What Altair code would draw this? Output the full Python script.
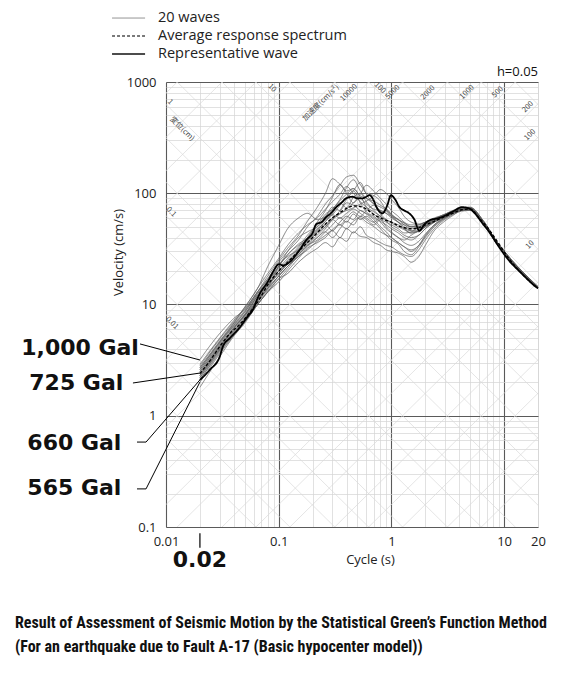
import math
import altair as alt
import pandas as pd

# ---------------- data ----------------
KINDS = ["20 waves", "Average response spectrum", "Representative wave"]

# common period grid of the 20 simulated waves (s)
T_wave = [0.02, 0.03, 0.04, 0.05, 0.065, 0.08, 0.1, 0.12, 0.15, 0.18, 0.22, 0.26,
          0.3, 0.35, 0.4, 0.46, 0.53, 0.6, 0.7, 0.8, 0.9, 1.0, 1.15, 1.3,
          1.5, 1.75, 2.0, 2.4, 2.9, 3.5, 4.2, 5.0, 6.5, 8.5, 11, 15, 20]

# pseudo velocity response (cm/s) of the 20 waves
waves = [
    [3.2, 5.5, 7.5, 9.0, 13, 17, 24, 30, 38, 50, 62, 80,
     95, 118, 140, 145, 120, 100, 95, 85, 70, 62, 55, 52,
     50, 52, 55, 60, 64, 70, 74, 74, 56, 37, 26.5, 19, 14.5],
    [1.8, 3.4, 5.2, 6.8, 10, 13, 17, 19, 24, 28, 32, 36,
     33, 40, 37, 45, 41, 40, 36, 34, 31, 30, 29, 27,
     24, 27, 34, 46, 55, 63, 70, 71, 54, 36, 25.5, 18.5, 14],
    [2.3, 4.0, 6.2, 8.0, 11, 14, 22, 28, 35, 40, 55, 70,
     92, 120, 100, 82, 92, 75, 65, 58, 55, 52, 48, 44,
     45, 50, 54, 58, 63, 68, 72, 73, 55, 37, 26, 18.8, 14.3],
    [2.6, 4.6, 6.8, 9.5, 14, 22, 34, 48, 60, 66, 58, 62,
     75, 70, 82, 78, 70, 66, 60, 55, 48, 44, 40, 38,
     42, 46, 50, 55, 60, 66, 70, 71, 54, 36, 25.5, 18.5, 14],
    [2.2, 3.9, 5.6, 7.2, 10.5, 14, 18, 22, 27, 33, 40, 48,
     58, 70, 88, 105, 125, 98, 80, 70, 66, 60, 55, 50,
     46, 45, 50, 56, 61, 67, 72, 73, 56, 37, 26.5, 19, 14.2],
    [2.5, 4.4, 6.4, 8.2, 12, 15, 19, 23, 30, 38, 48, 52,
     46, 55, 62, 58, 70, 65, 58, 50, 45, 40, 36, 33,
     30, 34, 42, 52, 60, 66, 71, 72, 55, 36.5, 26, 18.6, 14],
    [2.8, 4.9, 7.0, 9.2, 13, 18, 25, 32, 42, 56, 75, 100,
     135, 120, 105, 110, 95, 90, 80, 75, 70, 64, 58, 54,
     50, 50, 53, 58, 63, 69, 74, 75, 57, 37.5, 27, 19.2, 14.5],
    [2.1, 3.7, 5.4, 7.0, 10, 13, 17, 21, 28, 34, 38, 45,
     52, 60, 55, 65, 58, 62, 55, 48, 42, 38, 35, 30,
     28, 33, 40, 50, 58, 65, 70, 71, 54, 36, 25.5, 18.4, 13.8],
    [2.4, 4.2, 6.1, 8.0, 12, 16, 21, 26, 33, 42, 52, 65,
     72, 88, 112, 132, 105, 90, 85, 78, 72, 65, 58, 52,
     48, 48, 52, 57, 62, 68, 72, 73, 56, 37, 26.5, 19, 14.3],
    [2.7, 4.7, 6.8, 8.8, 13, 17, 23, 27, 31, 36, 44, 50,
     58, 52, 60, 68, 62, 70, 78, 65, 58, 54, 50, 47,
     44, 46, 51, 57, 62, 68, 72, 73, 56, 37, 26.5, 18.9, 14.2],
    [2.0, 3.6, 5.3, 7.0, 10, 13, 16, 20, 26, 32, 36, 40,
     46, 40, 48, 44, 50, 42, 39, 36, 34, 33, 30, 28,
     27, 31, 38, 48, 57, 64, 69, 70, 53, 35.5, 25.5, 18.3, 13.8],
    [2.3, 4.1, 5.9, 7.7, 11, 15, 19, 23, 29, 35, 42, 50,
     58, 65, 72, 82, 98, 118, 104, 90, 80, 70, 62, 55,
     52, 52, 55, 59, 64, 69, 73, 74, 57, 37.5, 27, 19, 14.4],
    [2.6, 4.5, 6.5, 8.5, 12.5, 16, 22, 30, 40, 45, 50, 58,
     66, 82, 74, 92, 100, 84, 70, 62, 58, 55, 52, 48,
     46, 47, 51, 56, 62, 68, 72, 73, 56, 37, 26.5, 18.9, 14.2],
    [2.2, 3.9, 5.7, 7.4, 11, 14, 18, 22, 27, 31, 37, 42,
     47, 52, 48, 56, 60, 55, 50, 45, 42, 40, 36, 33,
     31, 34, 41, 51, 59, 66, 70, 71, 54, 36, 25.5, 18.5, 14],
    [2.5, 4.3, 6.2, 8.1, 12, 15.5, 20, 24, 30, 37, 45, 52,
     60, 66, 70, 74, 80, 85, 95, 108, 100, 88, 75, 62,
     55, 53, 55, 59, 64, 69, 73, 74, 57, 37.5, 27, 19, 14.3],
    [2.9, 5.0, 7.2, 9.4, 14, 19, 26, 34, 44, 52, 60, 72,
     84, 98, 115, 100, 84, 75, 68, 62, 56, 50, 46, 42,
     40, 42, 48, 55, 61, 67, 71, 72, 55, 36.5, 26, 18.8, 14.1],
    [2.1, 3.8, 5.5, 7.2, 10.5, 13.5, 18, 22, 28, 34, 40, 45,
     40, 48, 56, 52, 62, 58, 52, 58, 50, 45, 40, 36,
     34, 37, 43, 52, 59, 66, 70, 71, 54, 36, 25.5, 18.4, 13.9],
    [2.4, 4.2, 6.1, 7.9, 11.5, 15, 20, 25, 32, 40, 50, 62,
     72, 86, 98, 110, 92, 80, 72, 70, 66, 62, 58, 54,
     50, 50, 53, 58, 63, 68, 72, 73, 56, 37, 26.5, 19, 14.3],
    [2.7, 4.6, 6.6, 8.6, 12.5, 16.5, 22, 28, 34, 38, 46, 56,
     64, 60, 66, 72, 66, 60, 55, 62, 72, 64, 55, 48,
     44, 46, 50, 56, 61, 67, 71, 72, 55, 36.5, 26, 18.8, 14.1],
    [2.3, 4.0, 5.8, 7.5, 11, 14.5, 19, 24, 31, 38, 47, 56,
     64, 78, 92, 105, 82, 68, 62, 56, 52, 48, 44, 40,
     38, 42, 48, 55, 61, 67, 71, 72, 55, 36.5, 26, 18.7, 14],
]

avg_T = [0.02, 0.025, 0.03, 0.037, 0.045, 0.055, 0.065, 0.08, 0.1, 0.12, 0.15, 0.18,
         0.22, 0.26, 0.3, 0.35, 0.4, 0.46, 0.53, 0.6, 0.7, 0.8, 0.9, 1.0, 1.15, 1.3,
         1.5, 1.75, 2.0, 2.4, 2.9, 3.5, 4.2, 5.0, 6.0, 7.5, 9, 11, 14, 17, 20]
avg_V = [2.4, 3.2, 4.2, 5.5, 6.6, 8.4, 10.5, 15, 20, 24, 30, 36,
         44, 53, 60, 67, 73, 77, 76, 72, 64, 60, 57, 55, 51, 49,
         48, 49, 52, 56, 61, 66, 71, 72, 60, 46, 35, 26, 19.5, 16, 14]

rep_T = [0.02, 0.0246, 0.03, 0.032, 0.037, 0.045, 0.052, 0.06, 0.064, 0.068, 0.08, 0.09,
         0.1, 0.11, 0.125, 0.15, 0.176, 0.2, 0.216, 0.24, 0.264, 0.29, 0.324, 0.36,
         0.397, 0.453, 0.5, 0.553, 0.6, 0.638, 0.69, 0.733, 0.834, 0.92, 0.99, 1.08,
         1.18, 1.3, 1.44, 1.6, 1.77, 1.95, 2.17, 2.66, 3.0, 3.47, 4.25, 4.9, 5.5, 6.4,
         7.5, 9.0, 11, 13.6, 16, 19, 20]
rep_V = [2.1, 2.6, 3.4, 4.2, 5.0, 6.2, 7.6, 9.3, 11, 12.5, 16, 20,
         23, 22.5, 24, 30, 38, 44, 53, 55, 61, 66, 75, 82,
         90, 93, 90, 90, 93, 96, 88, 76, 66, 78, 96, 88,
         75, 70, 66, 58, 46, 52, 57, 60, 63, 68, 75, 73, 66, 54,
         44, 33, 25, 20, 17, 14.5, 14]

# tripartite guide levels
disp_levels = [0.001, 0.002, 0.005, 0.01, 0.02, 0.05, 0.1, 0.2, 0.5, 1, 2, 5,
               10, 20, 50, 100, 200, 500, 1000, 2000]            # cm
acc_levels = [0.1, 0.2, 0.5, 1, 2, 5, 10, 20, 50, 100, 200, 500, 1000, 2000,
              5000, 10000, 20000, 50000, 100000, 200000, 500000]  # cm/s2

acc_lab_text = ["10000", "5000", "2000", "1000", "500", "200", "100", "10", "加速度(cm/s²)"]
acc_lab_T = [0.42, 1.03, 2.11, 4.69, 8.8, 16.3, 17.0, 17.0, 0.237]
acc_lab_V = [800, 810, 800, 810, 810, 596, 334, 34.3, 648]

disp_lab_text = ["1", "0.1", "0.01", "10", "100", "変位(cm)"]
disp_lab_T = [0.0109, 0.0111, 0.0113, 0.0872, 0.79, 0.0139]
disp_lab_V = [661, 67.8, 6.8, 884, 884, 378]

gal_text = ["1,000 Gal", "725 Gal", "660 Gal", "565 Gal"]
gal_lab_T = [0.00575, 0.00418, 0.00402, 0.00402]
gal_lab_V = [4.06, 1.97, 0.569, 0.224]
gal_lead_T = [[0.00588, 0.02], [0.00509, 0.02], [0.00553, 0.00665, 0.02], [0.00553, 0.00665, 0.02]]
gal_lead_V = [[4.42, 3.17], [1.97, 2.42], [0.58, 0.58, 2.1], [0.22, 0.22, 2.01]]

# legend rows (placed above the plot, in data units)
leg_V = [3758, 2591, 1785]
leg_T = [0.00332, 0.00652]
leg_text_T = 0.00849

x_decades = [0.01, 0.1, 1, 10]
y_decades = [0.1, 1, 10, 100]
mult = [1, 2, 3, 4, 5, 6, 7, 8, 9]

caption = ["Result of Assessment of Seismic Motion by the  Statistical Green\u2019s Function Method",
           "(For an earthquake due to Fault A-17 (Basic hypocenter model))"]

# ---------------- tables ----------------
rows = []
for i, w in enumerate(waves):
    for t, v in zip(T_wave, w):
        rows.append({"T": t, "V": v, "kind": KINDS[0], "wave": f"w{i}"})
wave_df = pd.DataFrame(rows)
avg_df = pd.DataFrame({"T": avg_T, "V": avg_V, "kind": KINDS[1], "wave": "avg"})
rep_df = pd.DataFrame({"T": rep_T, "V": rep_V, "kind": KINDS[2], "wave": "rep"})

leg_rows = []
for k, v in zip(KINDS, leg_V):
    for t in leg_T:
        leg_rows.append({"T": t, "V": v, "kind": k, "wave": "leg" + k})
leg_df = pd.DataFrame(leg_rows)
leg_txt_df = pd.DataFrame({"T": [leg_text_T] * 3, "V": leg_V, "txt": KINDS})

g = []
for d in disp_levels:
    for t in (0.01, 20):
        g.append({"T": t, "V": 2 * math.pi * d / t, "id": f"d{d}"})
for a in acc_levels:
    for t in (0.01, 20):
        g.append({"T": t, "V": a * t / (2 * math.pi), "id": f"a{a}"})
grid_df = pd.DataFrame(g)

acc_lab_df = pd.DataFrame({"T": acc_lab_T, "V": acc_lab_V, "txt": acc_lab_text})
disp_lab_df = pd.DataFrame({"T": disp_lab_T, "V": disp_lab_V, "txt": disp_lab_text})
gal_df = pd.DataFrame({"T": gal_lab_T, "V": gal_lab_V, "txt": gal_text})
lead = []
for k, (ts, vs) in enumerate(zip(gal_lead_T, gal_lead_V)):
    for j, (t, v) in enumerate(zip(ts, vs)):
        lead.append({"T": t, "V": v, "id": k, "o": j})
lead_df = pd.DataFrame(lead)
tick02_df = pd.DataFrame({"T": [0.02, 0.02], "V": [0.088, 0.065], "o": [0, 1]})
lab02_df = pd.DataFrame({"T": [0.02], "V": [0.05], "txt": ["0.02"]})
h_df = pd.DataFrame({"T": [20], "V": [1070], "txt": ["h=0.05"]})

x_ticks = [d * m for d in x_decades for m in mult if d * m <= 20.0001]
y_ticks = [d * m for d in y_decades for m in mult] + [1000]

# ---------------- chart ----------------
major_test = "abs(log(datum.value)/LN10 - round(log(datum.value)/LN10)) < 0.001"
xs = alt.Scale(type="log", domain=[0.01, 20], nice=False)
ys = alt.Scale(type="log", domain=[0.1, 1000], nice=False)

common_axis = dict(ticks=False, domain=False, labelOverlap=False, labelFlush=False, labelBound=False,
                   labelFont="Open Sans", labelFontSize=13, labelColor="#222",
                   titleFont="Open Sans", titleFontSize=13, titleFontWeight="normal", titleColor="#222",
                   gridColor={"condition": {"test": major_test, "value": "#5a5a5a"}, "value": "#d4d4d4"},
                   gridWidth={"condition": {"test": major_test, "value": 1.1}, "value": 0.7},
                   titleBaseline="middle", titleAlign="center")
x_axis = alt.Axis(values=x_ticks, title="Cycle (s)", labelPadding=8,
                  labelExpr=f"({major_test}) || datum.value == 20 ? format(datum.value, '~g') : ''",
                  titleX=204, titleY=32, **common_axis)
y_axis = alt.Axis(values=y_ticks, title="Velocity (cm/s)", labelPadding=10,
                  labelExpr=f"{major_test} ? format(datum.value, '~g') : ''",
                  titleX=-48, titleY=170, **common_axis)


def X():
    return alt.X("T:Q", scale=xs, axis=x_axis)


def Y():
    return alt.Y("V:Q", scale=ys, axis=y_axis)


grid = alt.Chart(grid_df).mark_line(clip=True, color="#dadada", strokeWidth=0.7).encode(
    x=X(), y=Y(), detail="id:N")

acc_labels = alt.Chart(acc_lab_df).mark_text(angle=315, fontSize=7.5, color="#444",
                                             font="Noto Sans CJK JP").encode(
    x=X(), y=Y(), text="txt:N")
disp_labels = alt.Chart(disp_lab_df).mark_text(angle=45, fontSize=7.5, color="#444",
                                               font="Noto Sans CJK JP").encode(
    x=X(), y=Y(), text="txt:N")

enc = dict(
    x=X(), y=Y(),
    color=alt.Color("kind:O", scale=alt.Scale(domain=KINDS, range=["#5e5e5e", "#000000", "#000000"]), legend=None),
    strokeDash=alt.StrokeDash("kind:O", scale=alt.Scale(domain=KINDS, range=[[1, 0], [3, 2], [1, 0]]), legend=None),
    strokeWidth=alt.StrokeWidth("kind:O", scale=alt.Scale(domain=KINDS, range=[0.95, 1.8, 2.6]), legend=None),
    detail="wave:N",
)
wave_lines = alt.Chart(wave_df).mark_line(interpolate="monotone", opacity=0.8).encode(**enc)
avg_line = alt.Chart(avg_df).mark_line(interpolate="monotone").encode(**enc)
rep_line = alt.Chart(rep_df).mark_line(interpolate="monotone").encode(**enc)

legend_lines = alt.Chart(leg_df).mark_line(opacity=0.7).encode(**enc)
legend_text = alt.Chart(leg_txt_df).mark_text(align="left", baseline="middle", font="Open Sans",
                                              fontSize=14.5, color="#222").encode(
    x=X(), y=Y(), text="txt:N")

leaders = alt.Chart(lead_df).mark_line(color="black", strokeWidth=1).encode(
    x=X(), y=Y(), detail="id:N", order="o:Q")
tick02 = alt.Chart(tick02_df).mark_line(color="black", strokeWidth=1.2).encode(
    x=X(), y=Y(), order="o:Q")
gal_labels = alt.Chart(gal_df).mark_text(align="right", baseline="middle", font="DejaVu Sans",
                                         fontWeight="bold", fontSize=22, color="#111").encode(
    x=X(), y=Y(), text="txt:N")
lab02 = alt.Chart(lab02_df).mark_text(align="center", baseline="middle", font="DejaVu Sans",
                                      fontWeight="bold", fontSize=22, color="#111").encode(
    x=X(), y=Y(), text="txt:N")
h_label = alt.Chart(h_df).mark_text(align="right", baseline="bottom", font="Open Sans",
                                    fontSize=13, color="#111").encode(
    x=X(), y=Y(), text="txt:N")

chart = alt.layer(
    grid, acc_labels, disp_labels, wave_lines, avg_line, rep_line,
    legend_lines, legend_text, leaders, tick02, gal_labels, lab02, h_label,
).properties(
    width=372, height=445,
    padding={"left": 158, "top": 74, "right": 17, "bottom": 138},
    autosize=alt.AutoSizeParams(type="none"),
    title=alt.TitleParams(text=caption, orient="bottom", anchor="start", frame="group",
                          dx=-151, offset=44, font="Roboto Condensed, Lato",
                          fontSize=16, fontWeight="bold", lineHeight=24, color="#111"),
).configure_view(stroke="#000", strokeWidth=1.2).configure(background="white")

chart.save("out.html", embed_options={"renderer": "svg", "actions": False})
